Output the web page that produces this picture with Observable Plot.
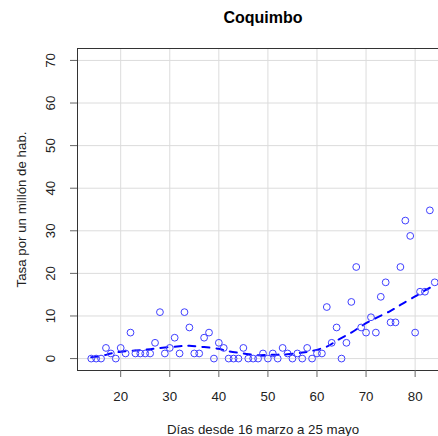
<!DOCTYPE html>
<html><head><meta charset="utf-8">
<script src="https://cdn.jsdelivr.net/npm/d3@7"></script>
<script src="https://cdn.jsdelivr.net/npm/@observablehq/plot@0.6"></script>
<style>
html,body{margin:0;padding:0;background:#fff;overflow:hidden;}
#wrap{width:438px;height:436px;overflow:hidden;}
</style></head><body>
<div id="wrap"></div>
<script>
const titleText = "Coquimbo";
const xLabel = "Días desde 16 marzo a 25 mayo";
const yLabel = "Tasa por un millón de hab.";
const days = [14,15,16,17,18,19,20,21,22,23,24,25,26,27,28,29,30,31,32,33,34,35,36,37,38,39,40,41,42,43,44,45,46,47,48,49,50,51,52,53,54,55,56,57,58,59,60,61,62,63,64,65,66,67,68,69,70,71,72,73,74,75,76,77,78,79,80,81,82,83,84];
const tasa = [0,0,0,2.5,1.2,0,2.5,1.2,6.1,1.2,1.2,1.2,1.2,3.7,10.9,1.2,2.5,4.9,1.2,10.9,7.3,1.2,1.2,4.9,6.1,0,3.7,2.5,0,0,0,2.5,0,0,0,1.2,0,1.2,0,2.5,1.2,0,1.2,0,2.5,0,1.2,1.2,12.1,3.7,7.3,0,3.7,13.3,21.5,7.3,6.1,9.7,6.1,14.5,17.9,8.5,8.5,21.5,32.4,28.8,6.1,15.7,15.7,34.8,17.9];
const trendDays = [14,16,18,20,23,26,29,32,34,37,40,42,45,48,51,54,57,59,62,64,67,69,72,75,77,80,82,84];
const trendVals = [0.3,0.6,1.2,1.6,1.9,2.2,2.6,2.9,3.0,2.7,2.3,1.7,1.2,0.8,0.9,1.0,1.4,1.8,2.8,4.2,6.1,7.6,9.5,11.2,12.6,14.6,16.0,17.2];
const xTicks = [20,30,40,50,60,70,80];
const yTicks = [0,10,20,30,40,50,60,70];

const pts = days.map((d,i)=>({d, v:tasa[i]}));
const trend = trendDays.map((d,i)=>({d, v:trendVals[i]}));
const font = "'Liberation Sans', Arial, sans-serif";

const chart = Plot.plot({
  width: 448, height: 436,
  marginLeft: 77, marginRight: 0, marginTop: 48, marginBottom: 66,
  style: {fontFamily: font, maxWidth: "none", background: "#fff"},
  x: {domain: [11.2, 86.8]},
  y: {domain: [-2.8, 72.8]},
  marks: [
    Plot.ruleX(xTicks, {stroke: "#dcdcdc", strokeWidth: 1}),
    Plot.ruleY(yTicks, {stroke: "#dcdcdc", strokeWidth: 1}),
    Plot.frame({stroke: "#333"}),
    Plot.axisX(xTicks, {tickSize: 7, tickPadding: 14, fontSize: 13.3, label: null, stroke: "#666", fill: "#222"}),
    Plot.axisY(yTicks, {tickSize: 7, tickPadding: 16, tickRotate: -90, fontSize: 13.3, label: null, stroke: "#666", fill: "#222"}),
    Plot.line(trend, {x: "d", y: "v", stroke: "blue", strokeWidth: 2, strokeDasharray: "7,7", curve: "natural"}),
    Plot.dot(pts, {x: "d", y: "v", r: 3.4, stroke: "#4040ff", strokeWidth: 1, fill: "none"}),
    Plot.text([titleText], {frameAnchor: "top", dy: -31, fontSize: 16, fontWeight: "bold", fill: "#000", lineAnchor: "middle"}),
    Plot.text([xLabel], {frameAnchor: "bottom", dy: 59, fontSize: 13.3, fill: "#222", lineAnchor: "middle"}),
    Plot.text([yLabel], {frameAnchor: "left", dx: -56, rotate: -90, fontSize: 13.3, fill: "#222", textAnchor: "middle", lineAnchor: "middle"})
  ]
});
document.getElementById("wrap").appendChild(chart);
</script>
</body></html>
